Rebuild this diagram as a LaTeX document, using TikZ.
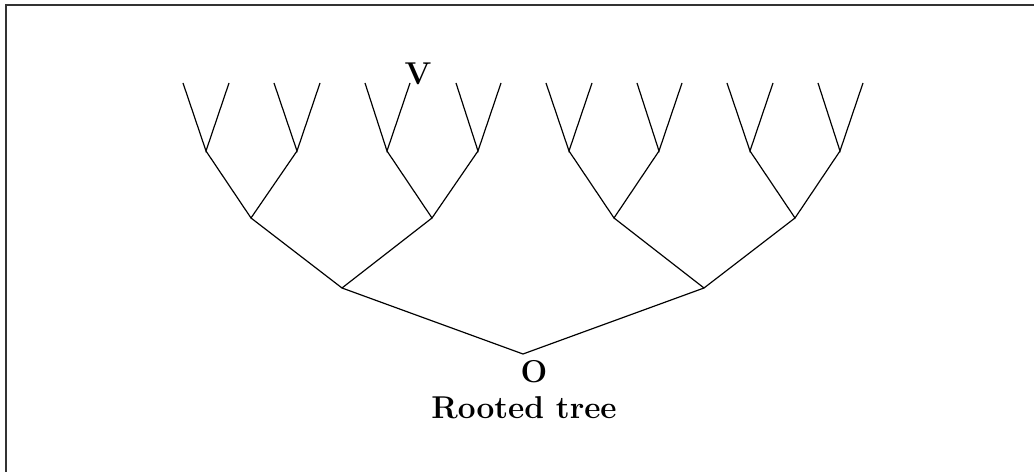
\documentclass[tikz,border=0pt]{standalone}
\usepackage{tikz}
\usetikzlibrary{positioning}

\begin{document}
\begin{tikzpicture}[
  x=0.38pt, y=-0.38pt,
  edge/.style={draw, line width=0.45pt},
  frame/.style={draw, line width=0.7pt, black!80},
  label/.style={font=\large\bfseries, inner sep=1pt}
]
\useasboundingbox (0,0) rectangle (1034,472);

% frame (open at right and bottom)
\draw[frame] (1040,5) -- (6,5) -- (6,478);

% root and first levels
\coordinate (root) at (523,354);
\coordinate (a1) at (342,288);
\coordinate (a2) at (704,288);
\coordinate (b1) at (251,218);
\coordinate (b2) at (432,218);
\coordinate (b3) at (614,218);
\coordinate (b4) at (795,218);

% third level
\coordinate (c1) at (206,151);
\coordinate (c2) at (297,151);
\coordinate (c3) at (387,151);
\coordinate (c4) at (478,151);
\coordinate (c5) at (569,151);
\coordinate (c6) at (659,151);
\coordinate (c7) at (750,151);
\coordinate (c8) at (840,151);

% leaves
\coordinate (l1)  at (183,83);  \coordinate (l2)  at (229,83);
\coordinate (l3)  at (274,83);  \coordinate (l4)  at (320,83);
\coordinate (l5)  at (365,83);  \coordinate (l6)  at (410,83);
\coordinate (l7)  at (456,83);  \coordinate (l8)  at (501,83);
\coordinate (l9)  at (546,83);  \coordinate (l10) at (592,83);
\coordinate (l11) at (637,83);  \coordinate (l12) at (682,83);
\coordinate (l13) at (727,83);  \coordinate (l14) at (773,83);
\coordinate (l15) at (818,83);  \coordinate (l16) at (863,83);

% edges
\draw[edge] (a1) -- (root) -- (a2);
\draw[edge] (b1) -- (a1) -- (b2);
\draw[edge] (b3) -- (a2) -- (b4);
\draw[edge] (c1) -- (b1) -- (c2);
\draw[edge] (c3) -- (b2) -- (c4);
\draw[edge] (c5) -- (b3) -- (c6);
\draw[edge] (c7) -- (b4) -- (c8);
\draw[edge] (l1) -- (c1) -- (l2);
\draw[edge] (l3) -- (c2) -- (l4);
\draw[edge] (l5) -- (c3) -- (l6);
\draw[edge] (l7) -- (c4) -- (l8);
\draw[edge] (l9) -- (c5) -- (l10);
\draw[edge] (l11) -- (c6) -- (l12);
\draw[edge] (l13) -- (c7) -- (l14);
\draw[edge] (l15) -- (c8) -- (l16);

% labels
\node[label] (vlab) at (418,74) {V};
\node[label] (olab) at (534,372) {O};
\node[label] (title) at (524,408) {Rooted tree};

\end{tikzpicture}
\end{document}
